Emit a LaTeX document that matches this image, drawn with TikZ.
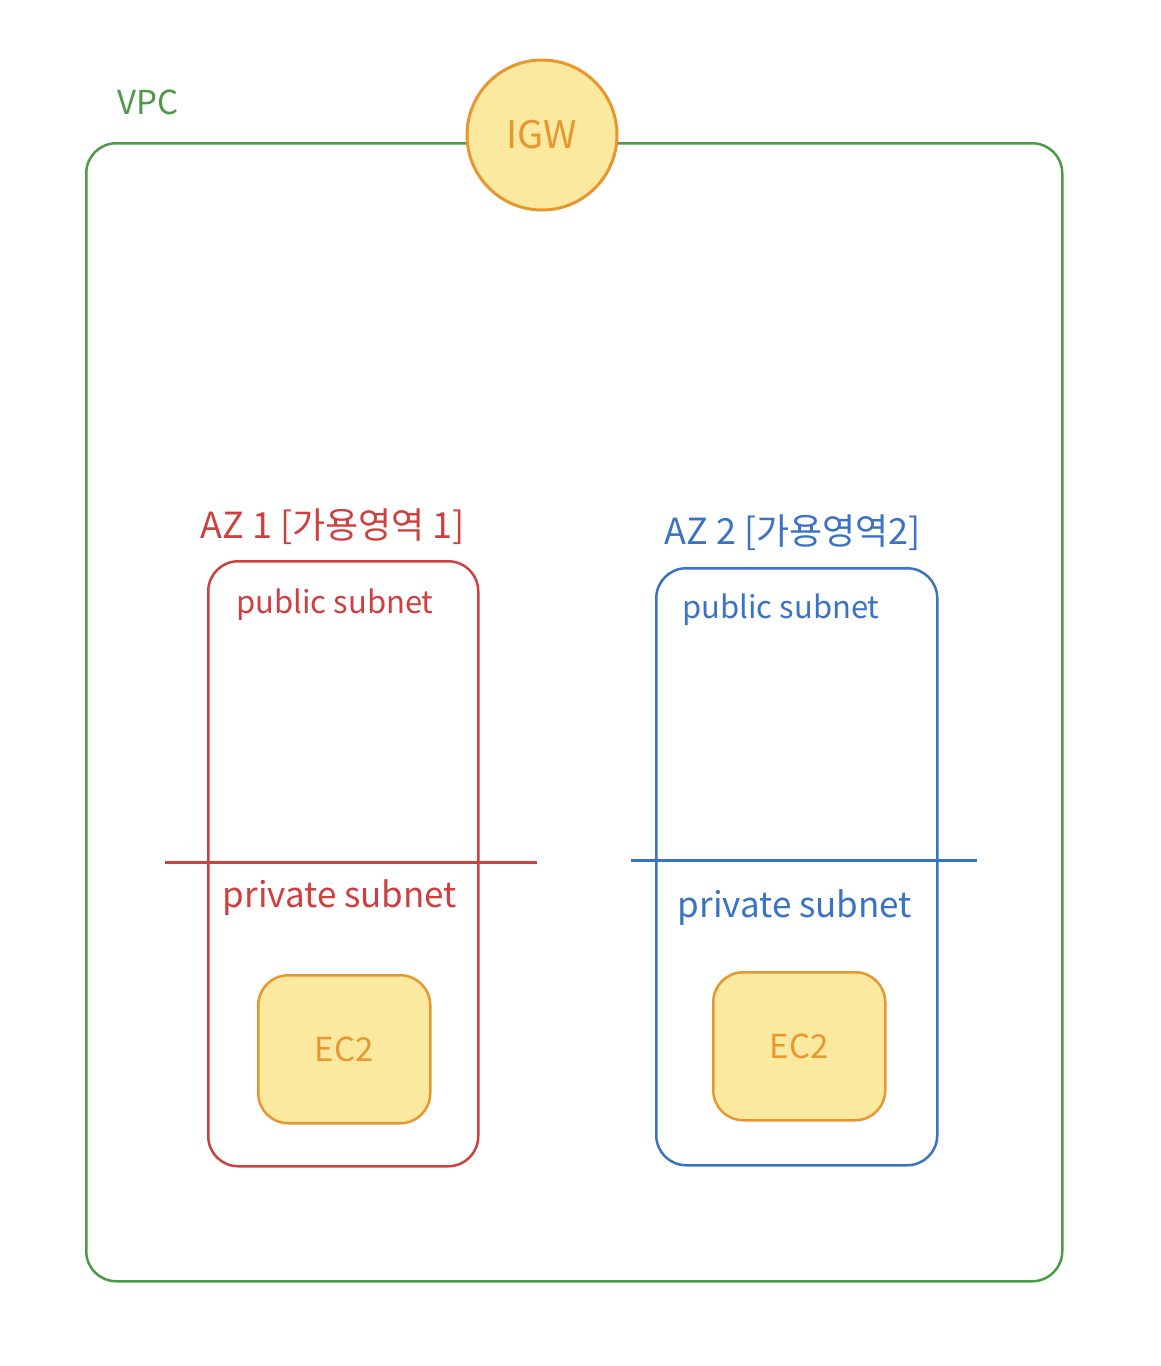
\documentclass[tikz,border=0pt]{standalone}
\usepackage{fontspec}
\setmainfont{Noto Sans CJK KR}
\definecolor{vgreen}{HTML}{4C9A47}
\definecolor{vred}{HTML}{CF3F3F}
\definecolor{vblue}{HTML}{3A72C4}
\definecolor{vorange}{HTML}{E8972F}
\definecolor{vfill}{HTML}{FBE9A0}
\tikzset{
  box/.style={draw, line width=2.5pt, rounded corners=30pt, inner sep=0pt},
  ec2/.style={box, draw=vorange, fill=vfill, minimum width=172pt, minimum height=148pt, font=\fontsize{33}{36}\selectfont, text=vorange},
  lbl/.style={font=\fontsize{31}{34}\selectfont, inner sep=0pt},
  privlbl/.style={font=\fontsize{35}{38}\selectfont, inner sep=0pt},
  azlbl/.style={font=\fontsize{33}{36}\selectfont, inner sep=0pt},
  divider/.style={line width=3pt}
}
\begin{document}
\begin{tikzpicture}[x=1pt,y=-1pt]
\useasboundingbox (0,0) rectangle (1160,1366);
% VPC
\node[box, draw=vgreen, minimum width=976pt, minimum height=1138pt, anchor=north west] (vpc) at (85,142) {};
\node[azlbl, text=vgreen] (vpclbl) at (148,102) {VPC};
% IGW
\node[circle, draw=vorange, fill=vfill, line width=3pt, minimum size=150pt, inner sep=0pt, font=\fontsize{38}{40}\selectfont, text=vorange] (igw) at (542,135) {IGW};
% AZ1
\node[box, draw=vred, minimum width=270pt, minimum height=605pt, anchor=north west] (az1) at (207,560) {};
\node[azlbl, text=vred, font=\fontsize{36}{38}\selectfont] (az1lbl) at (333,527) {AZ 1 [가용영역 1]};
\draw[divider, vred] (165,862) -- (537,862);
\node[lbl, text=vred] (pub1) at (335,605) {public subnet};
\node[privlbl, text=vred] (priv1) at (340,898) {private subnet};
\node[ec2, anchor=north west] (ec2a) at (257,974) {EC2};
% AZ2
\node[box, draw=vblue, minimum width=281pt, minimum height=597pt, anchor=north west] (az2) at (655,567) {};
\node[azlbl, text=vblue, font=\fontsize{36}{38}\selectfont] (az2lbl) at (793,533) {AZ 2 [가용영역2]};
\draw[divider, vblue] (631,860) -- (977,860);
\node[lbl, text=vblue] (pub2) at (781,610) {public subnet};
\node[privlbl, text=vblue] (priv2) at (795,908) {private subnet};
\node[ec2, anchor=north west] (ec2b) at (712,971) {EC2};
\end{tikzpicture}
\end{document}
